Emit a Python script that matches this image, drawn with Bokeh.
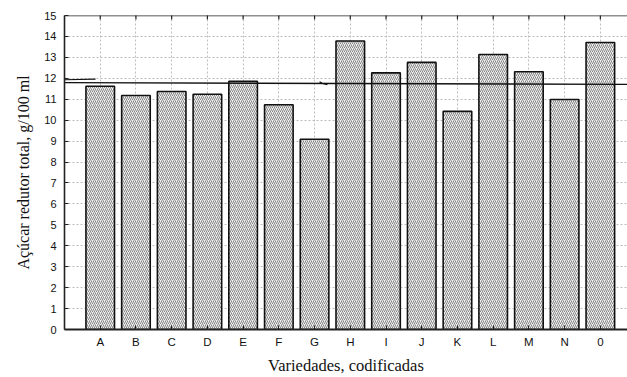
from math import pi
from bokeh.plotting import figure
from bokeh.models import Range1d, FixedTicker, ColumnDataSource, Span
from bokeh.embed import file_html
from bokeh.resources import INLINE

categories = ["A", "B", "C", "D", "E", "F", "G", "H", "I", "J", "K", "L", "M", "N", "0"]
values = [11.62, 11.18, 11.37, 11.24, 11.86, 10.74, 9.09, 13.78, 12.26, 12.76, 10.42, 13.14, 12.31, 10.99, 13.71]
mean_line_x = [0, 15.76]
mean_line_y = [11.79, 11.71]
stroke_x = [0, 0.87]
stroke_y = [11.93, 11.96]
hook_x = [7.14, 7.22, 7.36]
hook_y = [11.84, 11.75, 11.70]
y_ticks = list(range(0, 16))
y_max = 15
x_max = 15.76

positions = list(range(1, len(categories) + 1))
src = ColumnDataSource(dict(x=positions, top=values))

p = figure(width=627, height=377, output_backend="svg", toolbar_location=None,
           x_range=Range1d(0, x_max), y_range=Range1d(0, y_max),
           min_border_left=64, min_border_right=0, min_border_top=15, min_border_bottom=48)
p.outline_line_color = None
p.background_fill_color = "white"
p.border_fill_color = "white"

p.vbar(x="x", top="top", width=0.8, bottom=0, source=src,
       fill_color="#f0f0f0", line_color="#111111", line_width=1.6,
       hatch_pattern="/", hatch_scale=4, hatch_weight=0.8, hatch_color="#6a6a6a")

p.line(mean_line_x, mean_line_y, line_color="#111111", line_width=1.3)
p.line(stroke_x, stroke_y, line_color="#111111", line_width=1.2)
p.line(hook_x, hook_y, line_color="#111111", line_width=1.2)

# top frame line with inward ticks
p.add_layout(Span(location=y_max, dimension="width", line_color="#222222", line_width=1.6))
p.scatter(x=positions, y=[y_max] * len(positions), marker="dash", angle=pi / 2,
          size=8, line_color="#222222", line_width=1.2)

# grids
p.xgrid.ticker = FixedTicker(ticks=positions)
p.ygrid.ticker = FixedTicker(ticks=y_ticks)
for g in (p.xgrid, p.ygrid):
    g.grid_line_color = "#bdbdbd"
    g.grid_line_dash = "2 2"
    g.grid_line_width = 1

# x axis
xa = p.xaxis[0]
xa.ticker = FixedTicker(ticks=positions)
xa.major_label_overrides = {pos: c for pos, c in zip(positions, categories)}
xa.major_tick_in = 4
xa.major_tick_out = 0
xa.minor_tick_line_color = None
xa.axis_line_width = 2
xa.axis_line_color = "#222222"
xa.major_tick_line_color = "#222222"
xa.major_label_text_font = "Liberation Sans"
xa.major_label_text_font_size = "11.5px"
xa.major_label_text_color = "#111111"
xa.major_label_standoff = 6
xa.axis_label = "Variedades, codificadas"
xa.axis_label_text_font = "Liberation Serif"
xa.axis_label_text_font_size = "16.5px"
xa.axis_label_text_font_style = "normal"
xa.axis_label_text_color = "#111111"
xa.axis_label_standoff = 5

# y axis
ya = p.yaxis[0]
ya.ticker = FixedTicker(ticks=y_ticks)
ya.major_tick_in = 4
ya.major_tick_out = 0
ya.minor_tick_line_color = None
ya.axis_line_width = 1.6
ya.axis_line_color = "#222222"
ya.major_tick_line_color = "#222222"
ya.major_label_text_font = "Liberation Sans"
ya.major_label_text_font_size = "11px"
ya.major_label_text_color = "#111111"
ya.major_label_standoff = 8
ya.axis_label = "Açúcar redutor total, g/100 ml"
ya.axis_label_text_font = "Liberation Serif"
ya.axis_label_text_font_size = "16px"
ya.axis_label_text_font_style = "normal"
ya.axis_label_text_color = "#111111"
ya.axis_label_standoff = 9

open("out.html", "w").write(file_html(p, INLINE))
